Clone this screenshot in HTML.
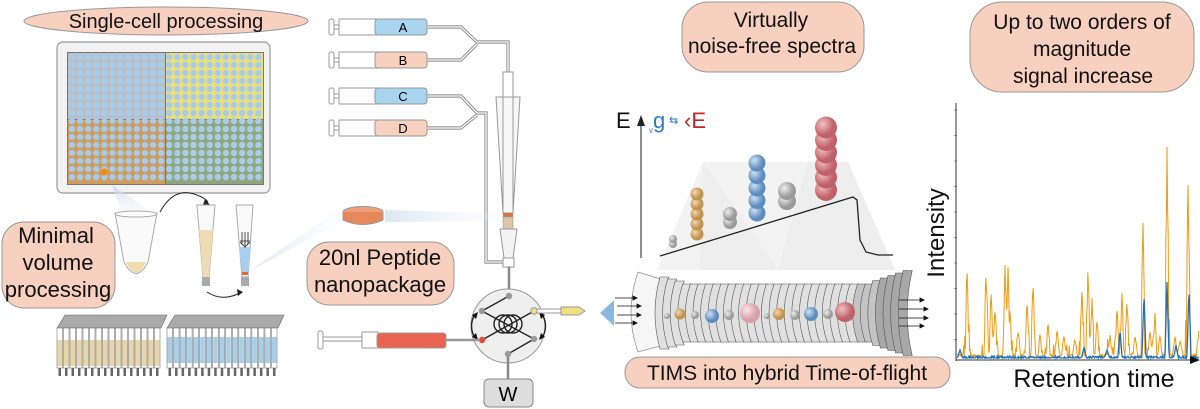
<!DOCTYPE html>
<html><head><meta charset="utf-8"><style>
html,body{margin:0;padding:0;background:#fff;}
svg{display:block;font-family:"Liberation Sans",sans-serif;}
</style></head><body>
<svg id="s" width="1200" height="409" viewBox="0 0 1200 409" xmlns="http://www.w3.org/2000/svg">
<defs>
<radialGradient id="gb" cx="0.35" cy="0.35"><stop offset="0" stop-color="#cfe0f2"/><stop offset="1" stop-color="#5d8dc0"/></radialGradient>
<radialGradient id="gr" cx="0.35" cy="0.35"><stop offset="0" stop-color="#f2c4c4"/><stop offset="1" stop-color="#c0606a"/></radialGradient>
<radialGradient id="gt" cx="0.35" cy="0.35"><stop offset="0" stop-color="#f3d9b0"/><stop offset="1" stop-color="#c0924e"/></radialGradient>
<radialGradient id="gg" cx="0.35" cy="0.35"><stop offset="0" stop-color="#eee"/><stop offset="1" stop-color="#9a9a9a"/></radialGradient>
<radialGradient id="gp" cx="0.35" cy="0.35"><stop offset="0" stop-color="#fbe4e6"/><stop offset="1" stop-color="#d8a0a8"/></radialGradient>
<linearGradient id="beam" x1="0" x2="1"><stop offset="0" stop-color="#c8d4ee"/><stop offset="1" stop-color="#eef2fa" stop-opacity="0.2"/></linearGradient>
<linearGradient id="beam2" x1="0" y1="0" x2="0" y2="1"><stop offset="0" stop-color="#c8d4ee"/><stop offset="1" stop-color="#eef2fa" stop-opacity="0.3"/></linearGradient>
</defs>

<rect x="57" y="42" width="213" height="151" rx="6" fill="#f2f2f2" stroke="#999" stroke-width="1.2"/>
<rect x="67" y="52" width="197" height="133" fill="#777"/>
<rect x="68" y="53" width="97" height="66" fill="#b7bec6"/>
<rect x="166" y="53" width="97" height="66" fill="#eadf7a"/>
<rect x="68" y="120" width="97" height="64" fill="#cf9d5e"/>
<rect x="166" y="120" width="97" height="64" fill="#8fa77d"/>
<g id="wells"></g>
<circle cx="104" cy="172" r="3.5" fill="#f08a10"/>
<polygon points="112,185 122,214 152,212" fill="url(#beam2)" opacity="0.8"/>

<path d="M115,213 L157,213 L148,262 Q136,285 124,262 Z" fill="#fafafa" stroke="#aaa"/>
<ellipse cx="136" cy="214" rx="21" ry="3" fill="#fff" stroke="#aaa"/>
<path d="M126,262 Q136,283 146,262 Z" fill="#f0dcae"/>
<path d="M160,212 Q172,190 190,193 Q203,196 208,202" fill="none" stroke="#222" stroke-width="1"/>
<polygon points="205,199 210,205 203,205" fill="#222"/>
<path d="M197,205 L215,205 L209,277 L203,277 Z" fill="#fafafa" stroke="#aaa"/>
<path d="M199,230 L213,230 L209,277 L203,277 Z" fill="#eedcb4"/>
<rect x="202" y="277" width="8" height="9" fill="#aaa"/>
<path d="M236,205 L253,205 L248,277 L242,277 Z" fill="#fafafa" stroke="#aaa"/>
<path d="M239,247 L251,247 L248,275 L242,275 Z" fill="#a8d0ee"/>
<rect x="242" y="272" width="6" height="3" fill="#e06a3a"/>
<rect x="241" y="277" width="8" height="9" fill="#aaa"/>
<path d="M240,241 L250,241 M242,232 L242,244 M245,232 L245,246 M248,232 L248,244 M240,242 L245,247 L250,242" stroke="#222" fill="none" stroke-width="0.8"/>
<path d="M207,292 Q222,302 240,293" fill="none" stroke="#222"/>
<polygon points="237,289 243,292 238,296" fill="#222"/>
<polygon points="248,272 340,208 342,222" fill="url(#beam)" opacity="0.6"/>

<g id="racks"></g>

<ellipse cx="166" cy="21" rx="142" ry="14" fill="#f8d0c0" stroke="#999"/>
<text x="166" y="28" font-size="20" text-anchor="middle" fill="#111">Single-cell processing</text>
<rect x="2" y="222" width="113" height="86" rx="22" fill="#f8d0c0" stroke="#999"/>
<text font-size="22" text-anchor="middle" fill="#111"><tspan x="56" y="243">Minimal</tspan><tspan x="58" y="270">volume</tspan><tspan x="58" y="297">processing</tspan></text>

<g id="syr"></g>
<g id="tubing" fill="none"></g>
<path d="M496,97 L520,97 L513,213 L503,213 Z" fill="#f7f7f7" stroke="#999"/>
<rect x="503" y="72" width="10" height="141" fill="none" stroke="#999"/>
<rect x="503" y="213" width="10" height="4" fill="#d0784a"/>
<rect x="503" y="217" width="10" height="12" fill="#d8c8a8" stroke="#999" stroke-width="0.6"/>
<path d="M500,229 L517,229 L513,258 L504,258 Z" fill="#f4f4f4" stroke="#999"/>
<rect x="503" y="258" width="11" height="9" fill="#fff" stroke="#999"/>
<ellipse cx="363" cy="212" rx="20" ry="5.5" fill="#f0a078" stroke="#999"/>
<path d="M343,212 L343,220 Q363,229 383,220 L383,212" fill="#e8875a" stroke="#999"/>
<polygon points="385,210 502,213 502,221 385,222" fill="url(#beam)" opacity="0.6"/>
<rect x="307" y="242" width="147" height="63" rx="22" fill="#f8d0c0" stroke="#999"/>
<text font-size="22" text-anchor="middle" fill="#111"><tspan x="380" y="265">20nl Peptide</tspan><tspan x="380" y="292">nanopackage</tspan></text>

<line x1="509" y1="267" x2="509" y2="295" stroke="#888" stroke-width="2.5"/>
<circle cx="508" cy="326" r="37" fill="#efefef" stroke="#999"/>
<g fill="none" stroke="#222" stroke-width="1.4">
<path d="M509,296 L482,311 M482,311 L534,339 M534,311 L482,340 M534,339 L508,354"/>
<circle cx="503" cy="324" r="9"/><circle cx="508" cy="324" r="9"/><circle cx="513" cy="324" r="9"/>
<path d="M475,314 Q468,326 475,338 M542,314 Q549,326 542,338"/>
</g>
<polygon points="472,315 478,312 476,319" fill="#111"/><polygon points="472,337 478,340 476,333" fill="#111"/>
<polygon points="545,315 539,312 541,319" fill="#111"/><polygon points="545,337 539,340 541,333" fill="#111"/>
<circle cx="509" cy="296" r="3.2" fill="#999"/><circle cx="482" cy="311" r="3.2" fill="#999"/><circle cx="534" cy="311" r="3.2" fill="#f0e080" stroke="#999"/>
<circle cx="482" cy="340" r="3.2" fill="#e05040"/><circle cx="534" cy="339" r="3.2" fill="#999"/><circle cx="508" cy="354" r="3.2" fill="#999"/>
<line x1="508" y1="357" x2="508" y2="379" stroke="#888" stroke-width="2.5"/>
<rect x="484" y="379" width="49" height="28" rx="5" fill="#ddd" stroke="#888"/>
<text x="508" y="401" font-size="20" text-anchor="middle">W</text>
<rect x="537" y="309" width="25" height="4" fill="#fff" stroke="#999"/>
<path d="M561,307 L579,307 L585,311 L579,315 L561,315 Z" fill="#f0e080" stroke="#999"/>
<rect x="318" y="331" width="5" height="18" rx="2" fill="#fff" stroke="#999"/>
<rect x="323" y="337" width="45" height="4" fill="#fff" stroke="#999"/>
<rect x="362" y="332" width="16" height="16" fill="#fff" stroke="#999"/>
<rect x="377" y="333" width="69" height="15" rx="3" fill="#e86450" stroke="#999"/>
<line x1="446" y1="340" x2="480" y2="340" stroke="#999" stroke-width="2.5"/>

<rect x="682" y="2" width="182" height="70" rx="26" fill="#f8d0c0" stroke="#999"/>
<text font-size="21" text-anchor="middle" fill="#111"><tspan x="771" y="27">Virtually</tspan><tspan x="772" y="53">noise-free spectra</tspan></text>
<rect x="970" y="2" width="224" height="90" rx="32" fill="#f8d0c0" stroke="#999"/>
<text font-size="21" text-anchor="middle" fill="#111"><tspan x="1082" y="29">Up to two orders of</tspan><tspan x="1082" y="56">magnitude</tspan><tspan x="1083" y="83">signal increase</tspan></text>

<polygon points="703,162 848,162 895,270 657,270" fill="#f3f3f3"/>
<polygon points="703,162 778,270 700,270" fill="#ececec" opacity="0.8"/>
<polygon points="808,162 848,162 895,270 778,270" fill="#ececec" opacity="0.8"/>
<line x1="641" y1="258" x2="641" y2="123" stroke="#444" stroke-width="1.2"/>
<polygon points="637,126 641,115 645,126" fill="#222"/>
<text x="616" y="128" font-size="22" fill="#111">E</text>
<text x="653" y="128" font-size="22" fill="#2d7cc4">g</text><text x="649" y="133" font-size="8" fill="#2d7cc4">v</text>
<text x="669" y="124" font-size="11" fill="#2d7cc4">⇆</text>
<text x="684" y="128" font-size="22" fill="#c22">‹E</text>
<polyline points="660,256 853,197 857,200 860,240 866,252 878,255 893,255" fill="none" stroke="#222" stroke-width="1.3"/>
<g id="sph"></g>

<g id="tube"></g>
<polygon points="600,313 614,300 614,326" fill="#8bb8e0"/>
<g stroke="#111" stroke-width="0.8" id="arr"></g>
<rect x="625" y="357" width="325" height="31" rx="15" fill="#f8d0c0" stroke="#999"/>
<text x="787" y="380" font-size="21" text-anchor="middle" fill="#111">TIMS into hybrid Time-of-flight</text>

<g id="ticks" stroke="#666" stroke-width="0.6"></g>
<path id="or" fill="none" stroke="#f39a10" stroke-width="1"/>
<path id="bl" fill="none" stroke="#2070b8" stroke-width="1.3"/>
<line x1="956" y1="103" x2="956" y2="361" stroke="#333"/>
<line x1="956" y1="360" x2="1194" y2="360" stroke="#333"/>
<polygon points="1190,356 1200,360 1190,364" fill="#111"/>
<text transform="translate(944,233) rotate(-90)" font-size="24" text-anchor="middle" fill="#111">Intensity</text>
<text x="1094" y="387" font-size="25" text-anchor="middle" fill="#111">Retention time</text>
</svg>
<script>
var NS="http://www.w3.org/2000/svg";
function el(p,t,a){var e=document.createElementNS(NS,t);for(var k in a)e.setAttribute(k,a[k]);p.appendChild(e);return e;}
var w=document.getElementById('wells');
for(var r=0;r<16;r++)for(var c=0;c<24;c++){el(w,'circle',{cx:72+c*8.1,cy:57+r*8.0,r:3.2,fill:'#a9cbe8'});}
var rk=document.getElementById('racks');
function rack(x0,x1,fill,f0,f1){var n=Math.floor((x1-x0)/6.5);var dx=(x1-x0)/n;
 el(rk,'polygon',{points:x0+',328 '+(x0+8)+',315 '+(x1+6)+',315 '+x1+',328',fill:'#aaa',stroke:'#666','stroke-width':0.6});
 for(var i=0;i<n;i++){var x=x0+i*dx;el(rk,'rect',{x:x,y:328,width:dx-1,height:40,fill:'#fff',stroke:'#777','stroke-width':0.6});el(rk,'rect',{x:x+0.5,y:f0,width:dx-2,height:f1-f0,fill:fill});el(rk,'rect',{x:x+1.5,y:368,width:dx-4,height:8,fill:'#666'});}}
rack(57,161,'#e9d6a8',340,366);rack(167,278,'#a8cfe8',337,363);
var sy=document.getElementById('syr');
[['A',27,'#a8d4f0'],['B',60,'#f8d0c0'],['C',96,'#a8d4f0'],['D',128,'#f8d0c0']].forEach(function(s){var y=s[1];
el(sy,'rect',{x:329,y:y-8,width:5,height:16,rx:2,fill:'#fff',stroke:'#999'});
el(sy,'rect',{x:334,y:y-2,width:30,height:4,fill:'#fff',stroke:'#999'});
el(sy,'rect',{x:339,y:y-8,width:40,height:16,fill:'#fff',stroke:'#999'});
el(sy,'rect',{x:375,y:y-8,width:52,height:16,rx:3,fill:s[2],stroke:'#999'});
var t=el(sy,'text',{x:403,y:y+5,'font-size':13,'text-anchor':'middle'});t.textContent=s[0];});
var tg=document.getElementById('tubing');
var tp=['M427,27 L461,27 L477,42 L508,42 L508,72','M427,60 L461,60 L477,44','M427,96 L461,96 L477,113 L486,113 L486,262 L503,262','M427,128 L461,128 L477,115'];
tp.forEach(function(d){el(tg,'path',{d:d,stroke:'#888','stroke-width':3.2});});
tp.forEach(function(d){el(tg,'path',{d:d,stroke:'#fff','stroke-width':1.3});});
var sp=document.getElementById('sph');
function col(x,y0,n,r,g,step){for(var i=0;i<n;i++)el(sp,'circle',{cx:x,cy:y0-i*step,r:r,fill:'url(#'+g+')'});}
col(673,244,2,4,'gg',5);col(697,234,5,6.5,'gt',10);col(730,222,2,7,'gg',8);col(757,213,5,8.5,'gb',12.5);col(787,201,2,9,'gg',10);col(826,190,6,11,'gr',12.5);
var tb=document.getElementById('tube');
el(tb,'path',{d:'M638,272 Q624,313 638,352 L664,345 Q654,313 664,280 Z',fill:'#f6f6f6',stroke:'#888','stroke-width':0.7});
for(var i=0;i<33;i++){var x=660+i*7.6;var sh=i>28?'#a8a8a8':(i>25?'#c4c4c4':'#e0e0e0');var h=i<3?36-i*2:(i>27?30+(i-27)*2.5:29);
 el(tb,'path',{d:'M'+x+','+(313-h)+' q-10,'+h+' 0,'+(2*h)+' l9,0 q-10,-'+h+' 0,-'+(2*h)+'z',fill:sh,stroke:'#555','stroke-width':0.6});}
[[667,316,3,'gg'],[680,314,5.5,'gt'],[695,315,4,'gg'],[712,316,7,'gb'],[729,315,5,'gg'],[750,313,10,'gp'],[767,316,3,'gg'],[779,314,6,'gt'],[795,315,5,'gg'],[811,314,7,'gb'],[828,314,5,'gg'],[845,312,10,'gr']].forEach(function(b){el(tb,'circle',{cx:b[0],cy:b[1],r:b[2],fill:'url(#'+b[3]+')'});});
var ar=document.getElementById('arr');
[[615,298,633],[617,306,637],[617,315,637],[615,323,633],[899,300,920],[899,309,924],[899,318,924],[899,326,920]].forEach(function(a){el(ar,'line',{x1:a[0],y1:a[1],x2:a[2],y2:a[1]});el(ar,'polygon',{points:a[2]+','+(a[1]-2)+' '+(a[2]+4)+','+a[1]+' '+a[2]+','+(a[1]+2),fill:'#111'});});
var tk=document.getElementById('ticks');for(var y=110;y<360;y+=25.5)el(tk,'line',{x1:954,y1:y,x2:957,y2:y});
var seed=11;function rnd(){seed=(seed*16807)%2147483647;return seed/2147483647;}
var peaks=[[967,265],[986,270],[991,287],[995,307],[1005,265],[1008,267],[1010,307],[1018,330],[1027,300],[1033,283],[1040,333],[1048,322],[1057,330],[1064,335],[1075,340],[1082,285],[1088,263],[1092,298],[1097,320],[1110,335],[1117,307],[1122,293],[1127,300],[1135,335],[1143,223],[1150,330],[1155,313],[1160,335],[1167,147],[1175,335],[1180,340],[1188,185],[1199,328]];
var bp=[[960,350],[1084,347],[1107,350],[1120,330],[1144,293],[1167,282],[1176,345],[1189,288]];
var o='',b='';for(var x=957;x<=1199;x+=0.6){var y=354+rnd()*4-(rnd()<0.12?rnd()*18:0),yb=356+rnd()*3;
peaks.forEach(function(p){var d=Math.abs(x-p[0]);if(d<3){var v=p[1]+(354-p[1])*(d/2.2)*(0.7+rnd()*0.6);y=Math.min(y,v);}});
bp.forEach(function(p){var d=Math.abs(x-p[0]);if(d<2.5){yb=Math.min(yb,p[1]+(356-p[1])*(d/2));}});
y=Math.min(y,356);yb=Math.min(yb,358);
o+=(o?'L':'M')+x.toFixed(1)+','+y.toFixed(1);b+=(b?'L':'M')+x.toFixed(1)+','+yb.toFixed(1);}
document.getElementById('or').setAttribute('d',o);document.getElementById('bl').setAttribute('d',b);
</script>
</body></html>
